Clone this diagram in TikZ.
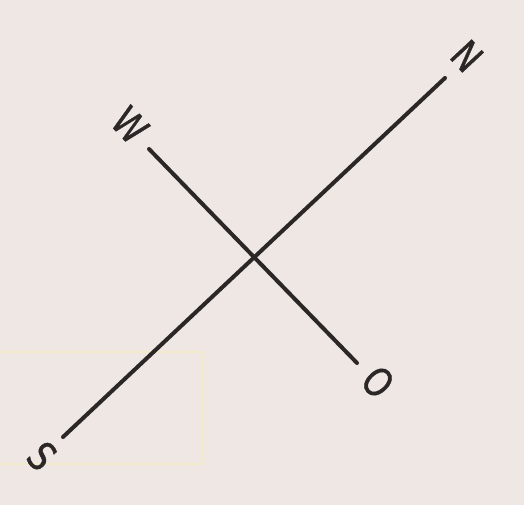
\documentclass[tikz,border=0pt]{standalone}
\usepackage{fontspec}
\setmainfont{DejaVu Sans}
\definecolor{paper}{HTML}{EEE7E4}
\definecolor{ink}{HTML}{2A2726}
\definecolor{stain}{HTML}{F2EAC9}
\begin{document}
\begin{tikzpicture}[x=1pt,y=-1pt,
  axisline/.style={draw=ink,line width=4pt,line cap=round},
  compass/.style={text=ink,font=\fontsize{40}{40}\selectfont\addfontfeature{FakeBold=1.2},rotate=-47,inner sep=0pt,xscale=0.8,transform shape},
  stainbox/.style={draw=stain,line width=2pt}]
\fill[paper] (0,0) rectangle (524,505);
\useasboundingbox (0,0) rectangle (524,505);
\draw[stainbox] (-2,352) rectangle (202,464);
\coordinate (s) at (63,437);
\coordinate (n) at (445,78);
\coordinate (w) at (149,149);
\coordinate (o) at (357,363);
\draw[axisline] (s) -- (n);
\draw[axisline] (w) -- (o);
\node[compass] (ln) at (467,56) {N};
\node[compass] (lw) at (130,125) {W};
\node[compass] (lo) at (378,382) {O};
\node[compass] (ls) at (42,456) {S};
\end{tikzpicture}
\end{document}
